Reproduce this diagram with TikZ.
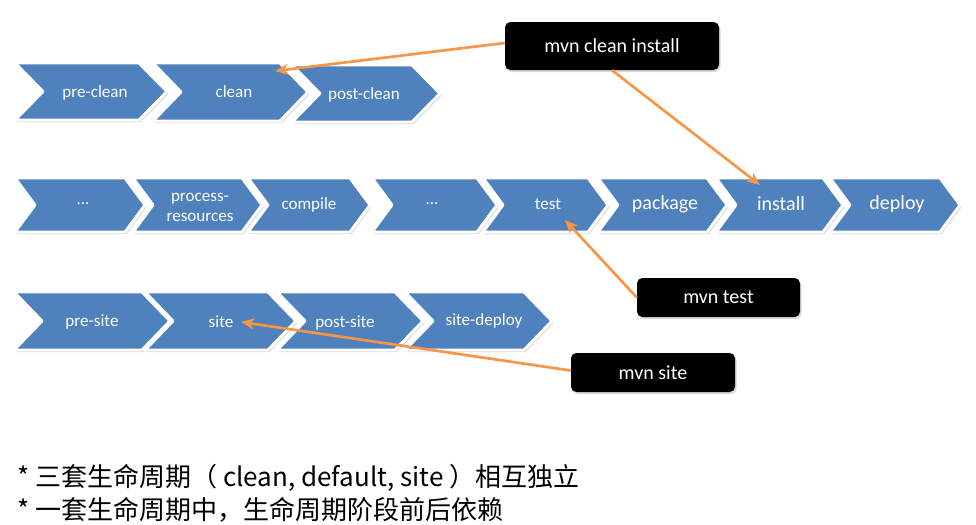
\documentclass[tikz,border=0pt]{standalone}
\usepackage{fontspec}
\setmainfont{Carlito}
\newfontfamily\cjk{Noto Sans CJK SC}
\usetikzlibrary{shadows,arrows.meta}
\definecolor{chevblue}{HTML}{4F81BD}
\definecolor{arrorange}{HTML}{F79646}
\newcommand{\chev}[9]{%
  \path[chevbox] (#2,#4) -- ({#3-#6},#4) -- (#3,{(#4+#5)/2}) -- ({#3-#6},#5) -- (#2,#5) -- ({#2+#6},{(#4+#5)/2}) -- cycle;
  \node[chevtext,#8] (#1) at (#7) {#9};
}
\tikzset{
  chevbox/.style={fill=chevblue, draw=white, line width=2.2pt, line join=round,
    drop shadow={shadow xshift=1.2pt, shadow yshift=-1.5pt, opacity=0.3, fill=black!50}},
  chevtext/.style={text=white, inner sep=1pt, font=\fontsize{12.8}{15}\selectfont},
  bigtext/.style={font=\fontsize{15}{17}\selectfont},
  blackbox/.style={fill=black, rounded corners=4pt, text=white, inner sep=0pt,
    font=\fontsize{15}{17}\selectfont,
    drop shadow={shadow xshift=1.2pt, shadow yshift=-1.5pt, opacity=0.3, fill=black!50}},
  arr/.style={draw=arrorange, line width=2pt, -{Stealth[length=10pt,width=8.5pt]}},
  note/.style={anchor=west, inner sep=0pt, font=\cjk\fontsize{19.5}{22}\selectfont}
}
\begin{document}
\begin{tikzpicture}[x=0.75pt, y=-0.75pt]
\useasboundingbox (0,0) rectangle (976,525);

% clean lifecycle
\chev{preclean}{15}{167}{63}{120}{28}{95,93}{}{pre-clean}
\chev{clean}{153}{308}{63}{121}{28}{234,92}{}{clean}
\chev{postclean}{292}{440}{65}{122}{28}{364,95}{}{post-clean}

% default lifecycle
\chev{dots1}{15}{145}{178}{232}{20}{83,204}{}{...}
\chev{procres}{133}{262}{178}{232}{20}{200,207}{align=center}{process-\\resources}
\chev{compile}{248}{370}{178}{232}{20}{309,205}{}{compile}
\chev{dots2}{372}{497}{178}{232}{20}{432,204}{}{...}
\chev{test}{483}{608}{178}{232}{20}{548,204}{}{test}
\chev{package}{598}{727}{178}{232}{20}{665,204}{bigtext}{package}
\chev{install}{716}{843}{178}{232}{20}{781,204}{bigtext}{install}
\chev{deploy}{830}{960}{178}{232}{20}{897,204}{bigtext}{deploy}

% site lifecycle
\chev{presite}{14}{170}{292}{350}{28}{92,322}{}{pre-site}
\chev{site}{145}{296}{292}{350}{28}{221,322}{}{site}
\chev{postsite}{277}{423}{292}{350}{28}{345,323}{}{post-site}
\chev{sitedeploy}{405}{552}{292}{350}{28}{484,321}{}{site-deploy}

% command boxes
\node[blackbox, minimum width=160.5pt, minimum height=36pt] (mci) at (612,46) {mvn clean install};
\node[blackbox, minimum width=122.25pt, minimum height=29.25pt] (mtest) at (718.5,297.5) {mvn test};
\node[blackbox, minimum width=123pt, minimum height=29.25pt] (msite) at (653,372.5) {mvn site};

% arrows
\draw[arr] ([shift={(0,-3)}]mci.west) -- ([shift={(41,-21)}]clean.center);
\draw[arr] (mci.south) -- ([shift={(-21,-19)}]install.center);
\draw[arr] (mtest.west) -- ([shift={(17,16)}]test.center);
\draw[arr] ([shift={(0,-2)}]msite.west) -- ([shift={(20,0)}]site.center);

% notes
\node[note] (n1) at (17,478) {* 三套生命周期（ clean, default, site ）相互独立};
\node[note] (n2) at (17,510) {* 一套生命周期中，生命周期阶段前后依赖};
\end{tikzpicture}
\end{document}
